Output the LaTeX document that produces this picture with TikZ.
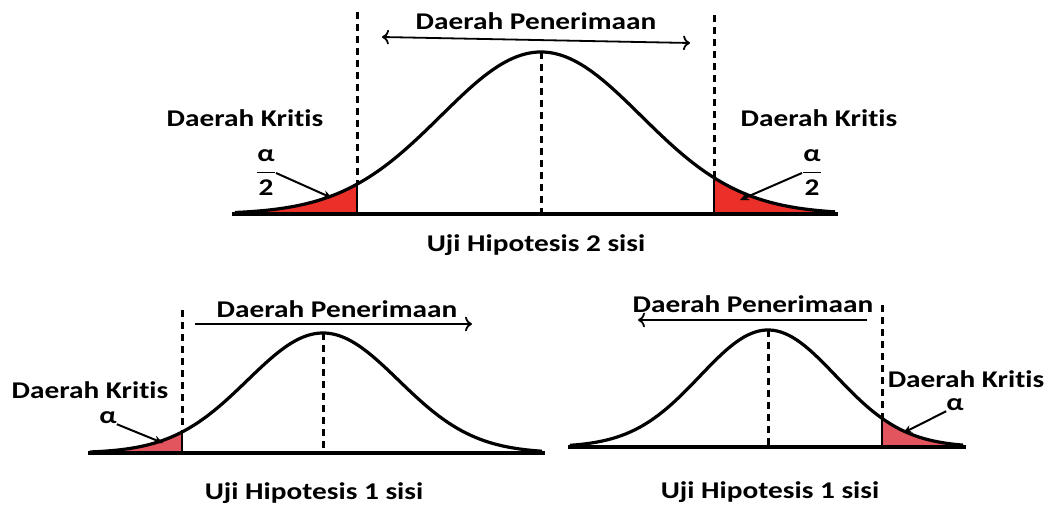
\documentclass[tikz,border=0pt]{standalone}
\usepackage{amsmath}
\usepackage{fontspec}
\setmainfont{Carlito}[FakeStretch=1.22, Ligatures=NoCommon]
\usetikzlibrary{arrows.meta,positioning}
\definecolor{KritisRed}{RGB}{234,48,40}
\definecolor{KritisPink}{RGB}{226,84,94}

\begin{document}
\begin{tikzpicture}[x=1pt, y=-1pt,
    declare function={gauss(\u,\c,\s)=exp(-0.5*((\u-\c)/\s)*((\u-\c)/\s));},
    lbl/.style={font=\fontsize{24}{27}\selectfont\bfseries, inner sep=0pt},
    curve/.style={line width=3.2pt, line join=round},
    axis/.style={line width=3.2pt},
    edge/.style={line width=2.6pt},
    cut/.style={line width=3pt, dash pattern=on 7pt off 5pt},
    pointer/.style={line width=2pt, -{Stealth[length=9pt,width=8pt]}},
    zone/.style={line width=1.8pt}]
    \useasboundingbox (0,0) rectangle (1052,506);

    % Uji 2 sisi: two critical tails
    \fill[KritisRed] plot[domain=235:357, samples=40] (\x,{214-162*gauss(\x,541,100)}) -- (357,214) -- cycle;
    \fill[KritisRed] (714,214) -- plot[domain=714:835, samples=40] (\x,{214-162*gauss(\x,541,100)}) -- cycle;
    \draw[curve] plot[domain=235:835, samples=150] (\x,{214-162*gauss(\x,541,100)});
    \draw[axis] (232,214) -- (838,214);
    \coordinate (cutTL) at (357,12);
    \coordinate (curTL) at (357,{214-162*gauss(357,541,100)});
    \coordinate (cutTR) at (714,15);
    \coordinate (curTR) at (714,{214-162*gauss(714,541,100)});
    \coordinate (peakT) at (541,52);
    \draw[cut] (cutTL) -- (curTL);
    \draw[edge] (curTL) -- (357,214);
    \draw[cut] (cutTR) -- (curTR);
    \draw[edge] (curTR) -- (714,214);
    \draw[cut] (peakT) -- (541,214);
    % labels
    \node[lbl] (terimaT) at (536,21) {Daerah Penerimaan};
    \coordinate (terimaTL) at (382,37);
    \coordinate (terimaTR) at (690,43);
    \draw[zone, {To[length=7pt]}-{To[length=7pt]}] (terimaTL) -- (terimaTR);
    \node[lbl] (kritisTL) at (245,118) {Daerah Kritis};
    \node[lbl] (kritisTR) at (819,118) {Daerah Kritis};
    \node[lbl] (alphaTL) at (266,173) {$\dfrac{\text{α}}{\text{2}}$};
    \node[lbl] (alphaTR) at (812,173) {$\dfrac{\text{α}}{\text{2}}$};
    \coordinate (tipTL) at (332,198);
    \coordinate (tipTR) at (740,200);
    \draw[pointer] (alphaTL.east) -- (tipTL);
    \draw[pointer] (alphaTR.west) -- (tipTR);
    \node[lbl] (ujiT) at (536,245) {Uji Hipotesis 2 sisi};

    % Uji 1 sisi: left tail
    \fill[KritisPink] plot[domain=90:182, samples=40] (\x,{453-120*gauss(\x,323,75.5)}) -- (182,453) -- cycle;
    \draw[curve] plot[domain=90:542, samples=150] (\x,{453-120*gauss(\x,323,75.5)});
    \draw[axis] (88,453) -- (545,453);
    \coordinate (cutBL) at (182,310);
    \coordinate (curBL) at (182,{453-120*gauss(182,323,75.5)});
    \coordinate (peakBL) at (323,333);
    \draw[cut] (cutBL) -- (curBL);
    \draw[edge] (curBL) -- (182,453);
    \draw[cut] (peakBL) -- (323,453);
    \node[lbl] (terimaBL) at (337,309) {Daerah Penerimaan};
    \coordinate (terimaBLa) at (195,324);
    \coordinate (terimaBLb) at (472,324);
    \draw[zone, -{To[length=7pt]}] (terimaBLa) -- (terimaBLb);
    \node[lbl] (kritisBL) at (90,390) {Daerah Kritis};
    \node[lbl] (alphaBL) at (108,418) {α};
    \coordinate (tipBL) at (163,443);
    \draw[pointer] (alphaBL.south east) -- (tipBL);
    \node[lbl] (ujiBL) at (314,493) {Uji Hipotesis 1 sisi};

    % Uji 1 sisi: right tail
    \fill[KritisPink] (882,447) -- plot[domain=882:963, samples=40] (\x,{447-117*gauss(\x,768,68)}) -- cycle;
    \draw[curve] plot[domain=570:963, samples=150] (\x,{447-117*gauss(\x,768,68)});
    \draw[axis] (568,447) -- (966,447);
    \coordinate (cutBR) at (882,305);
    \coordinate (curBR) at (882,{447-117*gauss(882,768,68)});
    \coordinate (peakBR) at (768,330);
    \draw[cut] (cutBR) -- (curBR);
    \draw[edge] (curBR) -- (882,447);
    \draw[cut] (peakBR) -- (768,447);
    \node[lbl] (terimaBR) at (753,304) {Daerah Penerimaan};
    \coordinate (terimaBRa) at (867,320);
    \coordinate (terimaBRb) at (638,320);
    \draw[zone, -{To[length=7pt]}] (terimaBRa) -- (terimaBRb);
    \node[lbl] (kritisBR) at (966,379) {Daerah Kritis};
    \node[lbl] (alphaBR) at (955,405) {α};
    \coordinate (tipBR) at (903,433);
    \draw[pointer] (alphaBR.south west) -- (tipBR);
    \node[lbl] (ujiBR) at (770,492) {Uji Hipotesis 1 sisi};
\end{tikzpicture}
\end{document}
